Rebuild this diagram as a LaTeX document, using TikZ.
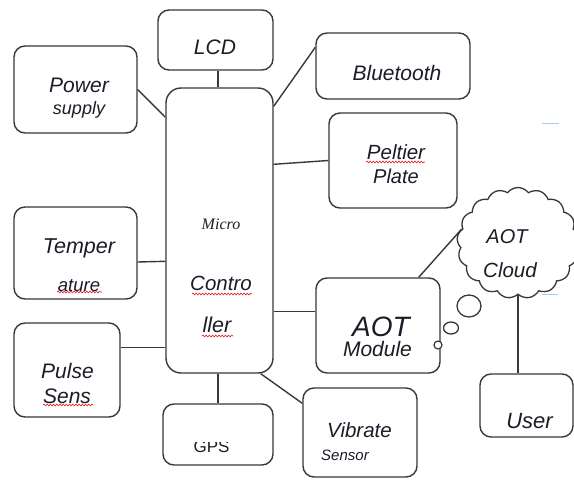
\documentclass[tikz,border=0pt]{standalone}
\usepackage{fontspec}
\setmainfont{Liberation Sans}[ItalicFont={Liberation Sans Italic}]
\newfontfamily\serifit{Liberation Serif}[ItalicFont={Liberation Serif Italic}]
\usetikzlibrary{shapes.symbols,shapes.geometric,decorations.pathmorphing,calc}
\definecolor{linec}{HTML}{383838}
\definecolor{textc}{HTML}{1C1C28}
\definecolor{lblue}{HTML}{A8CBEE}
\definecolor{wavyred}{HTML}{E02020}
\newcommand\mybox[5]{\node[box,minimum width={#4-#2},minimum height={#5-#3}] (#1) at ({(#2+#4)/2},{(#3+#5)/2}) {};}
\newcommand\fs[1]{\fontsize{#1}{#1}\selectfont}
\begin{document}
\begin{tikzpicture}[x=1pt,y=-1pt,
  box/.style={draw=linec,line width=1.4pt,rounded corners=11pt,inner sep=0pt,fill=white},
  conn/.style={draw=linec,line width=1.4pt},
  txt/.style={anchor=base,inner sep=0pt,text=textc},
  wavy/.style={draw=wavyred,line width=0.6pt,decorate,decoration={snake,amplitude=0.9pt,segment length=3.2pt}},
  blip/.style={draw=lblue,line width=1pt}]
\useasboundingbox (0,0) rectangle (574,480);
\clip (0,0) rectangle (574,480);
\fill[white] (0,0) rectangle (574,480);

% boxes
\mybox{lcd}{158}{10}{273}{70}
\mybox{ps}{14}{46}{137}{133}
\node[box,rounded corners=15pt,minimum width=107,minimum height=285] (mc) at (219.5,88+142.5) {};
\mybox{bt}{316}{33}{470}{99}
\mybox{pel}{329}{113}{457}{208}
\mybox{temp}{14}{207}{137}{299}
\mybox{pul}{14}{323}{120}{417}
\mybox{gps}{163}{404}{273}{465}
\mybox{aot}{316}{278}{440}{373}
\mybox{vib}{303}{388}{417}{477}
\mybox{usr}{480}{374}{573}{437}
\node[cloud,draw=linec,line width=1.3pt,fill=white,cloud puffs=17,cloud puff arc=105,cloud ignores aspect,minimum width=122,minimum height=111,inner sep=0pt] (cloud) at (518,243) {};

% thought bubbles
\node[ellipse,draw=linec,line width=1.3pt,fill=white,minimum width=24,minimum height=22,inner sep=0pt] (b1) at (469,306) {};
\node[ellipse,draw=linec,line width=1.3pt,fill=white,minimum width=15,minimum height=12,inner sep=0pt] (b2) at (451,328) {};
\node[circle,draw=linec,line width=1.2pt,fill=white,minimum size=8,inner sep=0pt] (b3) at (438,345) {};

% connectors
\draw[conn] (lcd.south -| 218,0) -- (218,0 |- mc.north);
\draw[conn] (ps.east) -- ($(mc.north west)+(0,30)$);
\draw[conn] ($(mc.north east)+(0,19)$) -- ($(bt.north west)+(0,15)$);
\draw[conn] ($(mc.north east)+(0,77)$) -- (pel.west);
\draw[conn] ($(temp.east)+(0,9)$) -- ($(mc.north west)+(0,174)$);
\draw[conn] ($(pul.north east)+(0,25)$) -- ($(mc.north west)+(0,260)$);
\draw[conn] ($(mc.north east)+(0,224)$) -- ($(aot.north west)+(0,34)$);
\draw[conn] (gps.north |- mc.south) -- (gps.north);
\draw[conn] ($(mc.south east)+(-13,0)$) -- ($(vib.north west)+(0,16)$);
\draw[conn] ($(aot.north east)+(-22,0)$) -- (cloud.166);
\draw[conn] (cloud.south) -- (cloud.south |- usr.north);

% light blue marks
\draw[blip] (542,123) -- (559,123);
\draw[blip] (542,294) -- (558,294);

% texts
\node[txt,font=\itshape\fs{21}] (tlcd) at (215,54) {LCD};
\node[txt,font=\itshape\fs{21}] (tps1) at (79,92) {Power};
\node[txt,font=\itshape\fs{18}] (tps2) at (79,114) {supply};
\node[txt,font=\itshape\fs{21}] (tbt) at (397,80) {Bluetooth};
\node[txt,font=\itshape\fs{20.5}] (tpel1) at (396,159) {Peltier};
\node[txt,font=\itshape\fs{20}] (tpel2) at (396,183) {Plate};
\node[txt,font=\serifit\itshape\fs{16}] (tmc1) at (221,229) {Micro};
\node[txt,font=\itshape\fs{20.5}] (tmc2) at (221,290) {Contro};
\node[txt,font=\itshape\fs{21.5}] (tmc3) at (217,332) {ller};
\node[txt,font=\itshape\fs{21.5}] (tt1) at (79,253) {Temper};
\node[txt,font=\itshape\fs{18.5}] (tt2) at (79,291) {ature};
\node[txt,font=\itshape\fs{21}] (tp1) at (67.5,378) {Pulse};
\node[txt,font=\itshape\fs{21}] (tp2) at (67,403) {Sens};
\begin{scope}
\clip (150,442) rectangle (280,470);
\node[txt,font=\upshape\fs{17}] (tgps) at (211.5,452) {GPS};
\end{scope}
\node[txt,font=\itshape\fs{28}] (ta1) at (381,336) {AOT};
\node[txt,font=\itshape\fs{21}] (ta2) at (377.5,356) {Module};
\node[txt,font=\itshape\fs{20.5}] (tv1) at (359.5,437) {Vibrate};
\node[txt,font=\itshape\fs{15}] (tv2) at (345,460) {Sensor};
\node[txt,font=\itshape\fs{20}] (tc1) at (507,243) {AOT};
\node[txt,font=\itshape\fs{20.5}] (tc2) at (510,277) {Cloud};
\node[txt,font=\itshape\fs{22}] (tu) at (529.5,428) {User};

% spell-check underlines
\draw[wavy] (366,162) -- (425,162);
\draw[wavy] (57,292) -- (102,292);
\draw[wavy] (192,294) -- (252,294);
\draw[wavy] (202,336) -- (233,336);
\draw[wavy] (43,405) -- (93,405);
\end{tikzpicture}
\end{document}
